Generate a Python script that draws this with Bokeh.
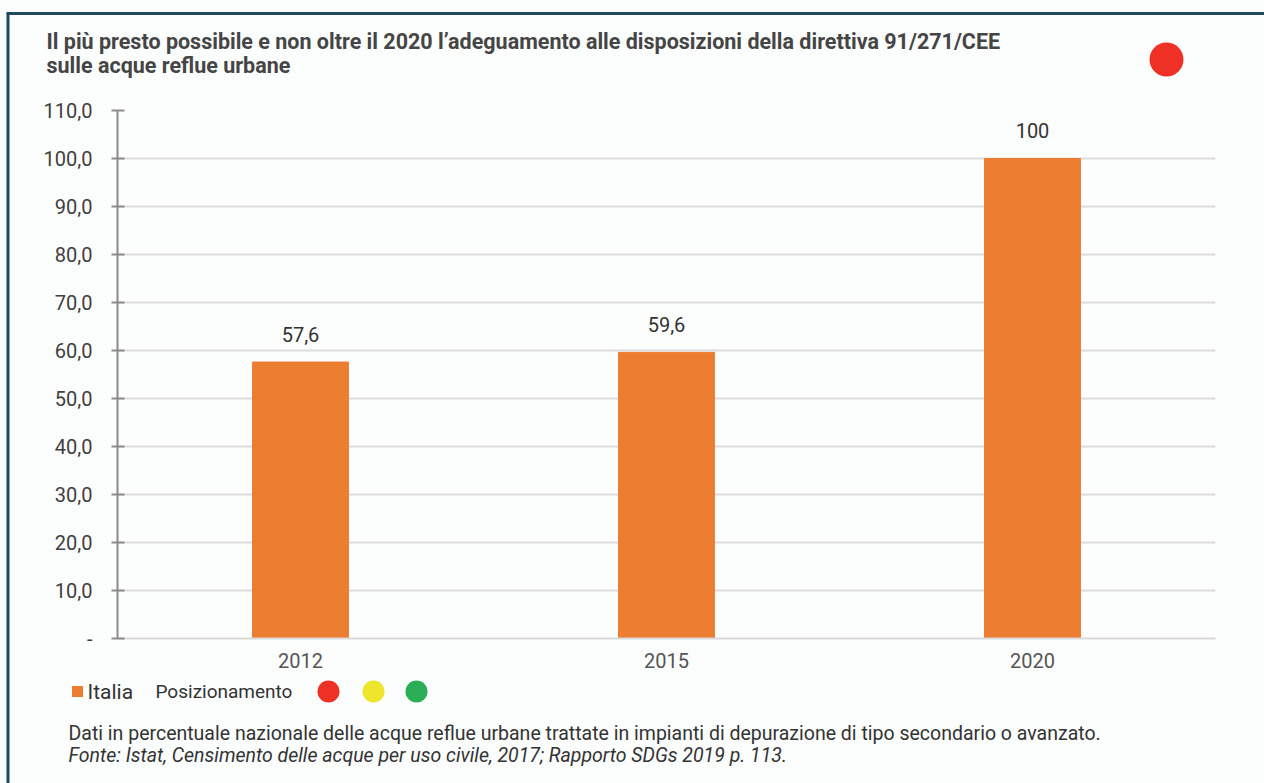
from bokeh.plotting import figure
from bokeh.models import Range1d, FixedTicker
from bokeh.core.properties import value
from bokeh.embed import file_html
from bokeh.resources import INLINE

# ---- data ----
years = ["2012", "2015", "2020"]
italia = [57.6, 59.6, 100.0]
y_ticks = [0, 10, 20, 30, 40, 50, 60, 70, 80, 90, 100, 110]
y_tick_labels = ["-", "10,0", "20,0", "30,0", "40,0", "50,0", "60,0",
                 "70,0", "80,0", "90,0", "100,0", "110,0"]
title_lines = ["Il più presto possibile e non oltre il 2020 l’adeguamento alle disposizioni della direttiva 91/271/CEE",
               "sulle acque reflue urbane"]
legend_series = "Italia"
legend_status = "Posizionamento"
status_colors = ["#EE3124", "#EDE62B", "#2BAE55"]
note_lines = ["Dati in percentuale nazionale delle acque reflue urbane trattate in impianti di depurazione di tipo secondario o avanzato.",
              "Fonte: Istat, Censimento delle acque per uso civile, 2017; Rapporto SDGs 2019 p. 113."]


def fmt(v):
    return str(int(v)) if float(v).is_integer() else f"{v:.1f}".replace(".", ",")


bar_labels = [fmt(v) for v in italia]
xpos = [i + 0.5 for i in range(len(years))]   # category slot centres

FONT = "Roboto"
BAR = "#ED7D31"
BG = "#fcfdfd"

W, H = 1264, 783
FL, FR, FT, FB = 117, 1215, 110, 638   # frame edges in page pixels

p = figure(width=W, height=H, x_range=Range1d(0, len(years)),
           y_range=Range1d(0, 110), output_backend="svg", toolbar_location=None,
           min_border_left=FL, min_border_right=W - FR,
           min_border_top=FT, min_border_bottom=H - FB)
p.extra_x_ranges = {"px": Range1d(FL, FR)}
p.extra_y_ranges = {"px": Range1d(FB, FT)}
p.background_fill_color = BG
p.border_fill_color = BG
p.outline_line_color = None

# bars
p.vbar(x=xpos, top=italia, width=0.262, color=BAR)
p.text(x=xpos, y=italia, text=bar_labels, text_align="center",
       text_baseline="alphabetic", y_offset=-28,
       text_font=value(FONT), text_font_size="20px", text_color="#333333")

# axes / grid
p.yaxis.ticker = FixedTicker(ticks=y_ticks)
p.yaxis.major_label_overrides = {t: s for t, s in zip(y_ticks, y_tick_labels)}
p.yaxis.axis_line_color = "#8c8c8c"
p.yaxis.axis_line_width = 2
p.yaxis.major_tick_line_color = "#8c8c8c"
p.yaxis.major_tick_line_width = 2
p.yaxis.major_tick_in = 7
p.yaxis.major_tick_out = 6
p.yaxis.minor_tick_line_color = None
p.yaxis.major_label_standoff = 19
p.yaxis.major_label_text_font = FONT
p.yaxis.major_label_text_font_size = "20px"
p.yaxis.major_label_text_color = "#404040"

p.xaxis.ticker = FixedTicker(ticks=xpos)
p.xaxis.major_label_overrides = {x: y for x, y in zip(xpos, years)}
p.xaxis.axis_line_color = "#d9d9d9"
p.xaxis.axis_line_width = 2
p.xaxis.major_tick_line_color = None
p.xaxis.minor_tick_line_color = None
p.xaxis.major_label_standoff = 8
p.xaxis.major_label_text_font = FONT
p.xaxis.major_label_text_font_size = "20px"
p.xaxis.major_label_text_color = "#555555"

p.xgrid.grid_line_color = None
p.ygrid.ticker = FixedTicker(ticks=y_ticks)
p.ygrid.grid_line_color = "#dcdcdc"
p.ygrid.grid_line_width = 2

# decorations in page-pixel coordinates (overlay level, drawn outside the frame)
px = dict(x_range_name="px", y_range_name="px", level="overlay")
p.segment(x0=[7.5, 6], y0=[13, 13], x1=[7.5, 1264], y1=[783, 13],
          line_color="#1f4b5c", line_width=3, **px)


def dot(x, y, d, color):
    p.segment(x0=[x - 0.01], y0=[y], x1=[x + 0.01], y1=[y], line_width=d,
              line_cap="round", line_color=color, **px)


def txt(x, y, t, size, style="normal", color="#333333"):
    p.text(x=[x], y=[y], text=[t], text_baseline="alphabetic",
           text_font=value(FONT), text_font_size=size, text_font_style=style,
           text_color=color, **px)


# title + status dot
for t, yc in zip(title_lines, [41, 65]):
    txt(46, yc, t, "21.5px", "bold", "#454545")
dot(1166, 59, 34, status_colors[0])

# legend
p.segment(x0=[71.5], y0=[691], x1=[82.5], y1=[691], line_width=11,
          line_cap="butt", line_color=BAR, **px)
txt(87, 691, legend_series, "21px")
txt(155, 691, legend_status, "19px")
for cx, c in zip([328, 373, 416], status_colors):
    dot(cx, 691, 22, c)

# footnote
for t, yc, st in zip(note_lines, [733, 755], ["normal", "italic"]):
    txt(68, yc, t, "19.5px", st)

open("out.html", "w").write(file_html(p, INLINE))
